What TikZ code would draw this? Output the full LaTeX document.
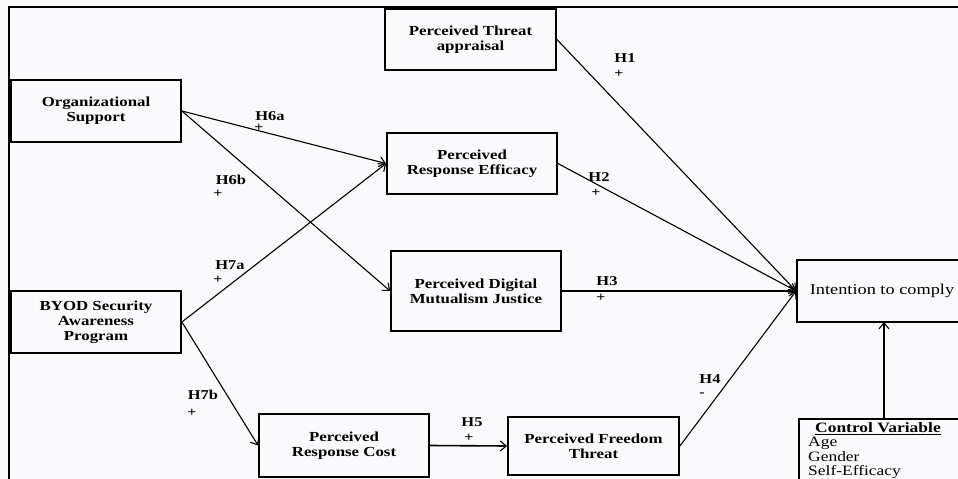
\documentclass[tikz,border=0pt]{standalone}
\usepackage{fontspec}
\setmainfont[FakeStretch=1.22]{Liberation Serif}
\usetikzlibrary{arrows.meta}
\definecolor{bg}{RGB}{250,250,252}
\tikzset{
 box/.style={draw, line width=1.8pt, fill=bg, inner sep=0pt, align=center, font=\fontsize{13.8}{15}\selectfont\bfseries},
 conn/.style={line width=1.1pt, -{Straight Barb[length=6pt,width=10pt,line width=1.1pt]}},
 hlab/.style={inner sep=0pt, font=\fontsize{13.5}{14}\selectfont\bfseries},
 sign/.style={inner sep=0pt, font=\fontsize{13}{14}\selectfont\bfseries},
 frame/.style={line width=2.2pt},
}
\begin{document}
\begin{tikzpicture}[x=1pt,y=-1pt]
\path[fill=bg] (0,0) rectangle (958,479);
\useasboundingbox (0,0) rectangle (958,479);
\draw[frame] (8,7) -- (958,7);
\draw[frame] (9,7) -- (9,479);

\node[box, minimum width=170pt, minimum height=62pt] (os) at (96,111) {Organizational\\Support};
\node[box, minimum width=171pt, minimum height=61pt] (ta) at (470.5,39.5) {Perceived Threat\\appraisal};
\node[box, minimum width=170pt, minimum height=61pt] (re) at (472,163.5) {Perceived\\Response Efficacy};
\node[box, minimum width=170pt, minimum height=80pt] (dmj) at (476,291) {Perceived Digital\\Mutualism Justice};
\node[box, minimum width=170pt, minimum height=62pt] (byod) at (96,322) {BYOD Security\\Awareness\\Program};
\node[box, minimum width=170pt, minimum height=63pt] (rc) at (344,445.5) {Perceived\\Response Cost};
\node[box, minimum width=171pt, minimum height=58pt] (ft) at (593.5,446) {Perceived Freedom\\Threat};
\node[box, minimum width=170pt, minimum height=62pt, font=\fontsize{15}{15}\selectfont] (ic) at (882,291) {Intention to comply};
\node[box, minimum width=170pt, minimum height=82pt, anchor=north west] (cv) at (798,418) {};
\node[anchor=north west, align=left, inner sep=0pt, font=\fontsize{14.3}{14.6}\selectfont] (cvt) at (808,422)
 {\hspace*{7pt}\underline{\textbf{Control Variable}}\\Age\\Gender\\Self-Efficacy};

\draw[conn] (os.east) -- (re.west);
\draw[conn] (os.east) -- (dmj.west);
\draw[conn] (byod.east) -- (re.west);
\draw[conn] (byod.east) -- (rc.west);
\draw[conn] (ta.east) -- (ic.west);
\draw[conn] (re.east) -- (ic.west);
\draw[conn] (dmj.east) -- (ic.west);
\draw[conn] (ft.east) -- (ic.west);
\draw[conn, line width=1.6pt] (rc.east) -- (ft.west);
\draw[conn] (cv.north -| 884,0) -- (884,322);

\node[hlab] (h1) at (625,58) {H1};
\node[sign] (s1) at (619,74) {+};
\node[hlab] (h2) at (599,177) {H2};
\node[sign] (s2) at (596,193) {+};
\node[hlab] (h3) at (607,281) {H3};
\node[sign] (s3) at (601,298) {+};
\node[hlab] (h4) at (710,379) {H4};
\node[sign] (s4) at (702,395) {-};
\node[hlab] (h5) at (472,422) {H5};
\node[sign] (s5) at (469,438) {+};
\node[hlab] (h6a) at (270,116) {H6a};
\node[sign] (s6a) at (259,128) {+};
\node[hlab] (h6b) at (231,180) {H6b};
\node[sign] (s6b) at (218,194) {+};
\node[hlab] (h7a) at (230,265) {H7a};
\node[sign] (s7a) at (218,280) {+};
\node[hlab] (h7b) at (203,395) {H7b};
\node[sign] (s7b) at (192,413) {+};
\end{tikzpicture}
\end{document}
